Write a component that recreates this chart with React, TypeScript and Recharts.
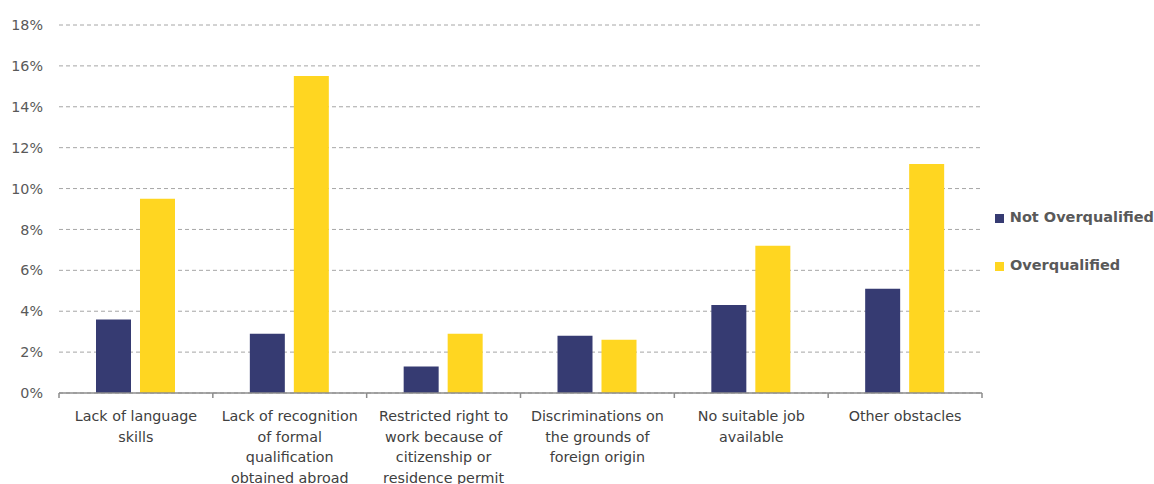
import React from 'react';
import { BarChart, Bar, XAxis, YAxis, CartesianGrid, Legend } from 'recharts';

const categories = [
  'Lack of language skills',
  'Lack of recognition of formal qualification obtained abroad',
  'Restricted right to work because of citizenship or residence permit',
  'Discriminations on the grounds of foreign origin',
  'No suitable job available',
  'Other obstacles',
];
const categoryLines: string[][] = [
  ['Lack of language', 'skills'],
  ['Lack of recognition', 'of formal', 'qualification', 'obtained abroad'],
  ['Restricted right to', 'work because of', 'citizenship or', 'residence permit'],
  ['Discriminations on', 'the grounds of', 'foreign origin'],
  ['No suitable job', 'available'],
  ['Other obstacles'],
];
const notOverqualified = [3.6, 2.9, 1.3, 2.8, 4.3, 5.1];
const overqualified = [9.5, 15.5, 2.9, 2.6, 7.2, 11.2];
const yTicks = [0, 2, 4, 6, 8, 10, 12, 14, 16, 18];
const seriesNames = ['Not Overqualified', 'Overqualified'];
const seriesColors = ['#363B72', '#FFD621'];

const data = categories.map((c, i) => ({
  category: c,
  notOver: notOverqualified[i],
  over: overqualified[i],
}));

const FONT = '"DejaVu Sans", Verdana, sans-serif';

const XTick = (props: any) => {
  const { x, y, payload, index } = props;
  const half = payload && typeof payload.offset === 'number' ? payload.offset : 0;
  const lines = categoryLines[index] || [];
  const isLast = index === categories.length - 1;
  return (
    <g>
      <line x1={x - half} x2={x - half} y1={y} y2={y + 5} stroke="#8c8c8c" strokeWidth={1.5} />
      {isLast && (
        <line x1={x + half} x2={x + half} y1={y} y2={y + 5} stroke="#8c8c8c" strokeWidth={1.5} />
      )}
      <text x={x} y={y + 28} textAnchor="middle" fill="#404040" fontSize={14.3} fontFamily={FONT}>
        {lines.map((l, i) => (
          <tspan key={i} x={x} dy={i === 0 ? 0 : 20.7}>
            {l}
          </tspan>
        ))}
      </text>
    </g>
  );
};

const LegendContent = (props: any) => {
  const payload = props.payload || [];
  return (
    <div style={{ fontFamily: FONT }}>
      {payload.map((p: any, i: number) => (
        <div
          key={i}
          style={{
            display: 'flex',
            alignItems: 'center',
            height: 20,
            marginBottom: 28,
            fontSize: 14.5,
            fontWeight: 'bold',
            color: '#595959',
            whiteSpace: 'nowrap',
          }}
        >
          <span
            style={{
              display: 'inline-block',
              width: 9,
              height: 9,
              background: p.color,
              marginRight: 6,
              marginTop: 2,
            }}
          />
          {p.value}
        </div>
      ))}
    </div>
  );
};

export default function App() {
  return (
    <div style={{ position: 'absolute', left: 0, top: 0, width: 1154, height: 484, background: '#fff' }}>
      <BarChart
        width={1154}
        height={484}
        data={data}
        margin={{ top: 25, right: 13, bottom: 0, left: 0 }}
        barSize={35}
        barGap={9}
      >
        <CartesianGrid vertical={false} stroke="#a6a6a6" strokeDasharray="4 3" />
        <XAxis
          dataKey="category"
          height={91}
          interval={0}
          tickLine={false}
          tickSize={0}
          tickMargin={0}
          axisLine={{ stroke: '#8c8c8c', strokeWidth: 1.5 }}
          tick={<XTick />}
        />
        <YAxis
          width={59}
          domain={[0, 18]}
          ticks={yTicks}
          tickFormatter={(v: number) => `${v}%`}
          axisLine={false}
          tickLine={false}
          tickSize={6}
          tickMargin={10}
          tick={{ fill: '#595959', fontSize: 14.3, fontFamily: FONT }}
        />
        <Legend
          layout="vertical"
          align="right"
          verticalAlign="top"
          content={<LegendContent />}
          wrapperStyle={{ position: 'absolute', left: 995, top: 207, width: 159 }}
        />
        <Bar dataKey="notOver" name={seriesNames[0]} fill={seriesColors[0]} isAnimationActive={false} />
        <Bar dataKey="over" name={seriesNames[1]} fill={seriesColors[1]} isAnimationActive={false} />
      </BarChart>
    </div>
  );
}
